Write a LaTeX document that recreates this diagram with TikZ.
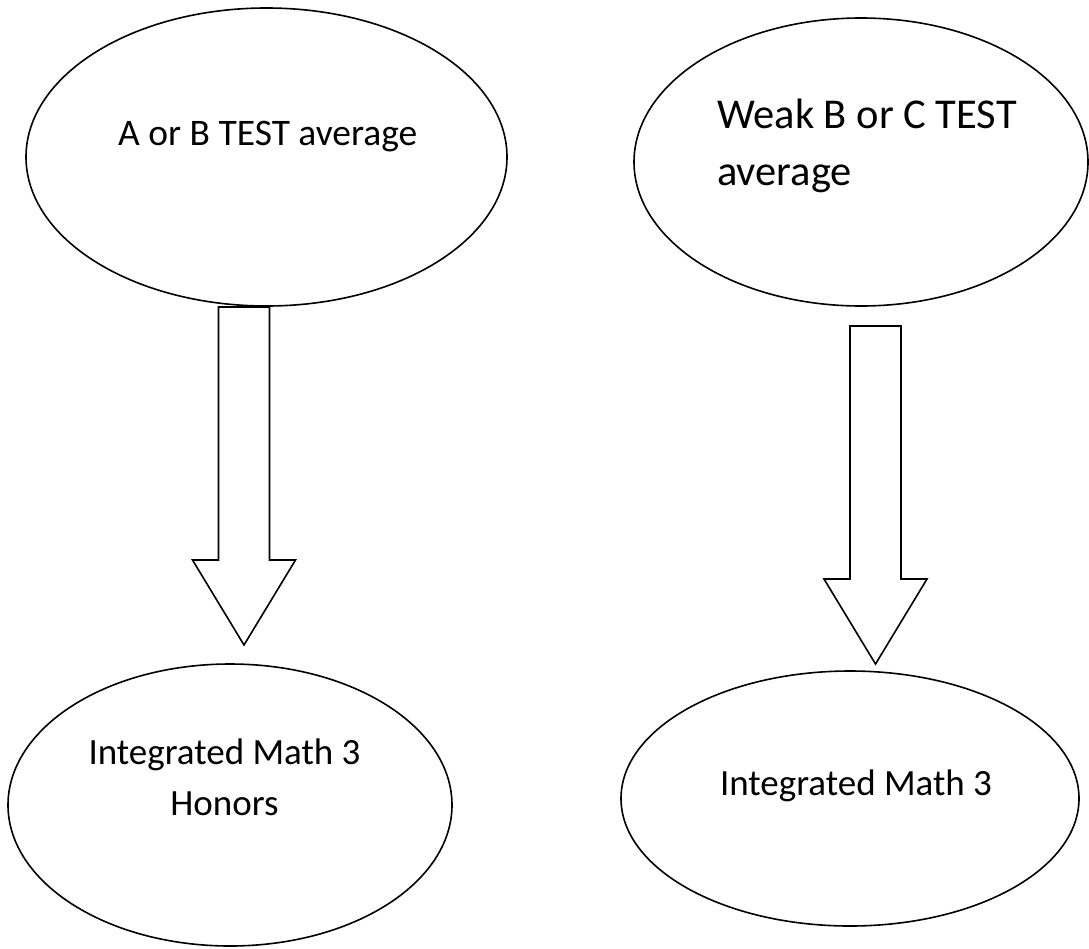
\documentclass[tikz,border=0pt]{standalone}
\usepackage{fontspec}
\setmainfont{Carlito}
\usetikzlibrary{shapes.geometric}

\begin{document}
\begin{tikzpicture}[x=1pt, y=-1pt,
  bubble/.style={ellipse, draw, line width=1.6pt, inner sep=0pt},
  label text/.style={inner sep=0pt},
  block arrow/.pic={
    \draw[line width=1.6pt, line join=miter] (-25.5,0) -- (25.5,0) -- (25.5,253) -- (51.5,253)
      -- (0,338) -- (-51.5,253) -- (-25.5,253) -- cycle;
  }]
\useasboundingbox (0,0) rectangle (1089,948);
% Test averages
\node[bubble, minimum width=481pt, minimum height=298pt] (abavg) at (266.5,157) {};
\node[bubble, minimum width=454pt, minimum height=288pt] (bcavg) at (861,162) {};
\node[label text, anchor=base west, font=\fontsize{37.5}{44}\selectfont] (abtext) at (118,145) {A or B TEST average};
\node[label text, anchor=base west, align=left, font=\fontsize{42.5}{57}\selectfont] (bctext) at (717,185) {Weak B or C TEST\\average};
% Courses
\node[bubble, minimum width=444pt, minimum height=282pt] (honors) at (230,805) {};
\node[bubble, minimum width=458pt, minimum height=255pt] (regular) at (850,798.5) {};
\node[label text, anchor=base, align=center, font=\fontsize{37}{51}\selectfont] (hontext) at (224.5,815) {Integrated Math 3\\Honors};
\node[label text, anchor=base, font=\fontsize{37}{44}\selectfont] (regtext) at (856,795) {Integrated Math 3};
% Block arrows
\coordinate (abtail) at (244,307);
\coordinate (bctail) at (875.5,326);
\pic at (abtail) {block arrow};
\pic at (bctail) {block arrow};
\end{tikzpicture}
\end{document}
